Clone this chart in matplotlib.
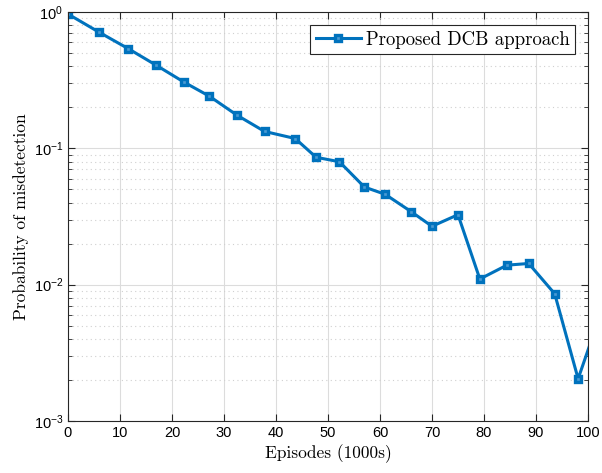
import numpy as np
import matplotlib
matplotlib.use("Agg")
import matplotlib.pyplot as plt
from matplotlib.ticker import LogLocator, FixedLocator, NullFormatter, FuncFormatter

plt.rcParams['font.family'] = ['Liberation Sans', 'DejaVu Sans']
plt.rcParams['mathtext.fontset'] = 'custom'
plt.rcParams['mathtext.rm'] = 'Liberation Sans'
plt.rcParams['mathtext.default'] = 'regular'

# values (last point lies past the x limit and is clipped)
episodes = [0, 6.0, 11.6, 17.0, 22.3, 27.2, 32.5, 37.8, 43.7, 47.7, 52.2,
            57.0, 61.0, 66.0, 70.0, 75.0, 79.2, 84.4, 88.6, 93.6, 98.1, 103.0]
p_miss = [0.966, 0.71, 0.538, 0.406, 0.306, 0.241, 0.175, 0.133, 0.118, 0.086,
          0.0797, 0.052, 0.046, 0.0343, 0.0268, 0.0326, 0.0110, 0.0139, 0.0143,
          0.00857, 0.00204, 0.0071]
xticks = np.arange(0, 101, 10)

blue = '#0072BD'
lab_font = {'family': 'cmr10', 'size': 12.5}

fig = plt.figure(figsize=(6.02, 4.73), dpi=100)
ax = fig.add_axes([68/602, 52/473, 520/602, 409/473])

ax.semilogy(episodes, p_miss, color=blue, lw=2.2, marker='s', ms=5,
            mfc='#4a9ad4', mec=blue, mew=2.4, label='Proposed DCB approach')

ax.set_xlim(0, 100)
ax.set_ylim(1e-3, 1)
ax.xaxis.set_major_locator(FixedLocator(xticks))
ax.yaxis.set_major_locator(LogLocator(base=10))
ax.yaxis.set_minor_locator(LogLocator(base=10, subs=np.arange(2, 10)))
ax.yaxis.set_minor_formatter(NullFormatter())
ax.yaxis.set_major_formatter(FuncFormatter(lambda v, p: '$10^{%d}$' % round(np.log10(v))))

ax.grid(True, which='major', color='#dcdcdc', lw=0.8, ls='-')
ax.grid(True, which='minor', axis='y', color='#d0d0d0', lw=0.8, ls=(0, (1, 3)))
ax.set_axisbelow(True)

ax.tick_params(which='both', direction='in', top=True, right=True, labelsize=10.5,
               color='#262626')
ax.tick_params(which='major', length=5)
ax.tick_params(which='minor', length=3)
for s in ax.spines.values():
    s.set_color('#262626')
    s.set_linewidth(0.8)

ax.set_xlabel('Episodes (1000s)', fontdict=lab_font, labelpad=3)
ax.set_ylabel('Probability of misdetection', fontdict=lab_font, labelpad=3)

leg = ax.legend(loc='upper right', prop={'family': 'cmr10', 'size': 13.5},
                fancybox=False, edgecolor='#262626', framealpha=1,
                borderpad=0.3, handlelength=2.4, handletextpad=0.25,
                borderaxespad=0.7)
leg.get_frame().set_linewidth(0.8)

fig.savefig('out.png', dpi=100)
